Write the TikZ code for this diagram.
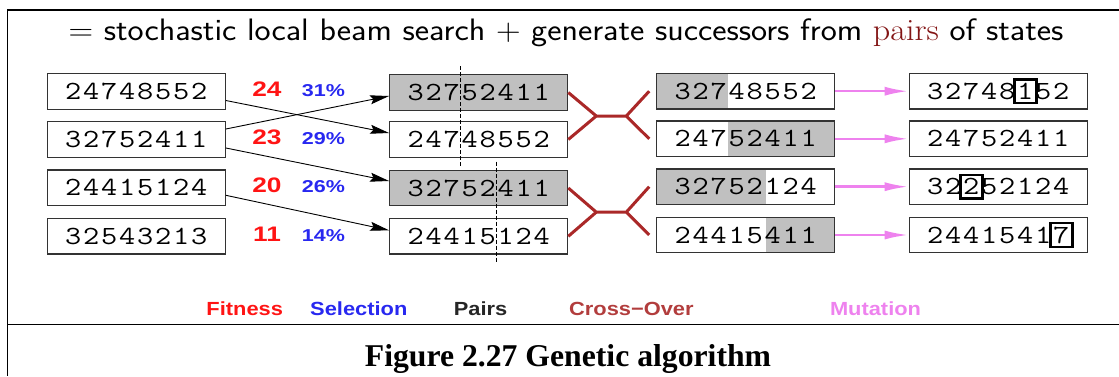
\documentclass[tikz,border=0pt]{standalone}
\usepackage{fontspec}
\usepackage{xcolor}
\usepackage{tikz}
\usetikzlibrary{arrows.meta,calc}

\newfontfamily\genefont[FakeStretch=1.2]{Latin Modern Mono}
\newfontfamily\numfont[FakeStretch=1.25]{Liberation Sans}
\newfontfamily\legfont[FakeStretch=1.15]{Liberation Sans}
\newfontfamily\headsf[FakeStretch=1.1]{Latin Modern Sans}
\newfontfamily\headrm[FakeStretch=1.1]{Latin Modern Roman}
\newfontfamily\capfont{Liberation Serif}

\definecolor{fitred}{RGB}{255,20,20}
\definecolor{selblue}{RGB}{40,40,240}
\definecolor{xred}{RGB}{170,40,40}
\definecolor{mutpink}{RGB}{238,130,238}
\definecolor{genegray}{RGB}{192,192,192}
\definecolor{pairsred}{RGB}{130,20,20}

\makeatletter
\newcommand\genes[1]{\@tfor\gn:=#1\do{\makebox[18pt]{\gn}}}
\makeatother
\newcommand\flip[1]{{\setlength\fboxrule{2.6pt}\setlength\fboxsep{1.6pt}\fbox{\rule[-1pt]{0pt}{18pt}#1}}}

\tikzset{
  gene/.style={draw=black!80, line width=1.2pt, minimum width=178pt, minimum height=35.5pt,
    inner sep=0pt, text height=16pt, text depth=0pt, font=\genefont\fontsize{26.2}{30}\selectfont},
  parent/.style={gene, fill=genegray},
  grayleft/.style={path picture={\fill[genegray] (path picture bounding box.north west)
    rectangle ([xshift=#1]path picture bounding box.south);}},
  grayright/.style={path picture={\fill[genegray] (path picture bounding box.north east)
    rectangle ([xshift=#1]path picture bounding box.south);}},
  fitnum/.style={text=fitred, font=\numfont\bfseries\fontsize{21}{24}\selectfont, anchor=base, inner sep=0pt},
  selnum/.style={text=selblue, font=\numfont\bfseries\fontsize{17.2}{20}\selectfont, anchor=base, inner sep=0pt},
  legtext/.style={font=\legfont\bfseries\fontsize{19}{22}\selectfont, anchor=base, inner sep=0pt},
  pick/.style={-{Stealth[length=19pt,width=9pt,inset=3pt]}, line width=0.9pt},
  cut/.style={line width=0.9pt, dash pattern=on 4pt off 2pt},
  xover/.style={xred, line width=3pt},
  mutate/.style={mutpink, line width=2.5pt, -{Latex[length=24pt,width=9pt]}},
}

\begin{document}
\begin{tikzpicture}[x=1pt,y=-1pt]
\useasboundingbox (0,0) rectangle (1119,376);
\draw[line width=1.5pt] (1119,10)--(7.3,10)--(7.3,376);
\draw[line width=1.5pt] (7.3,324.3)--(1119,324.3);

\node[anchor=base, inner sep=0pt, font=\headsf\fontsize{31}{36}\selectfont] (head) at (566,40.7)
  {{\headrm =} stochastic local beam search {\headrm +} generate successors from {\headrm\color{pairsred}pairs} of states};

% population
\node[gene] (L1) at (136.3,91.5) {\genes{24748552}};
\node[gene] (L2) at (136.3,139.5) {\genes{32752411}};
\node[gene] (L3) at (136.3,187.8) {\genes{24415124}};
\node[gene] (L4) at (136.3,236.3) {\genes{32543213}};

% fitness and selection
\node[fitnum] (f1) at (267,96.5) {24};
\node[fitnum] (f2) at (267,144.5) {23};
\node[fitnum] (f3) at (267,192.8) {20};
\node[fitnum] (f4) at (267,241.3) {11};
\node[selnum] (s1) at (323.5,96.5) {31\%};
\node[selnum] (s2) at (323.5,144.5) {29\%};
\node[selnum] (s3) at (323.5,192.8) {26\%};
\node[selnum] (s4) at (323.5,241.3) {14\%};

% pairs
\node[parent] (M1) at (478.7,92.5) {\genes{32752411}};
\node[gene] (M2) at (478.7,139.5) {\genes{24748552}};
\node[parent] (M3) at (478.7,188) {\genes{32752411}};
\node[gene] (M4) at (478.7,236.3) {\genes{24415124}};

\draw[pick] ($(L1.east)+(0,9)$) -- ($(M2.west)+(0,-6.5)$);
\draw[pick] ($(L2.east)+(0,-10.5)$) -- ($(M1.west)+(0,3.5)$);
\draw[pick] ($(L2.east)+(0,8.5)$) -- ($(M3.west)+(0,-7)$);
\draw[pick] ($(L3.east)+(0,7.5)$) -- ($(M4.west)+(0,-6)$);

\draw[cut] ($(M1.north)+(-18,-8)$) -- ($(M2.south)+(-18,8)$);
\draw[cut] ($(M3.north)+(18,-8)$) -- ($(M4.south)+(18,8)$);

% cross-over
\node[gene, grayleft=-18pt] (C1) at (745.8,91.2) {\genes{32748552}};
\node[gene, grayright=-18pt] (C2) at (745.8,138.8) {\genes{24752411}};
\node[gene, grayleft=20pt] (C3) at (745.8,186.7) {\genes{32752124}};
\node[gene, grayright=20pt] (C4) at (745.8,235) {\genes{24415411}};

\coordinate (j1) at ($(M1.east)!0.5!(M2.east)+(28,0)$);
\coordinate (j2) at ($(j1)+(30,0)$);
\coordinate (b1) at ($(C1.west)+(-7,0)$);
\coordinate (b2) at ($(C2.west)+(-7,0)$);
\draw[xover] (M1.east) -- (j1) -- (M2.east) (j1) -- (j2) (b1) -- (j2) -- (b2);
\coordinate (j3) at ($(M3.east)!0.5!(M4.east)+(28,0)$);
\coordinate (j4) at ($(j3)+(30,0)$);
\coordinate (b3) at ($(C3.west)+(-7,0)$);
\coordinate (b4) at ($(C4.west)+(-7,0)$);
\draw[xover] (M3.east) -- (j3) -- (M4.east) (j3) -- (j4) (b3) -- (j4) -- (b4);

% mutation
\node[gene] (R1) at (998.3,91.2) {\genes{32748{\flip1}52}};
\node[gene] (R2) at (998.3,138.8) {\genes{24752411}};
\node[gene] (R3) at (998.3,186.7) {\genes{32{\flip2}52124}};
\node[gene] (R4) at (998.3,235) {\genes{2441541{\flip7}}};

\draw[mutate] (C1) -- (R1);
\draw[mutate] (C2) -- (R2);
\draw[mutate] (C3) -- (R3);
\draw[mutate] (C4) -- (R4);

% legend
\node[legtext, text=fitred] (lf) at (244.7,315) {Fitness};
\node[legtext, text=selblue] (ls) at (358.8,315) {Selection};
\node[legtext, text=black!85] (lp) at (480.5,315) {Pairs};
\node[legtext, text=xred!90!white] (lc) at (631.4,315) {Cross−Over};
\node[legtext, text=mutpink] (lm) at (875.5,315) {Mutation};

\node[anchor=base, inner sep=0pt, font=\capfont\bfseries\fontsize{31.7}{36}\selectfont] (cap) at (568,366)
  {Figure 2.27 Genetic algorithm};
\end{tikzpicture}
\end{document}
